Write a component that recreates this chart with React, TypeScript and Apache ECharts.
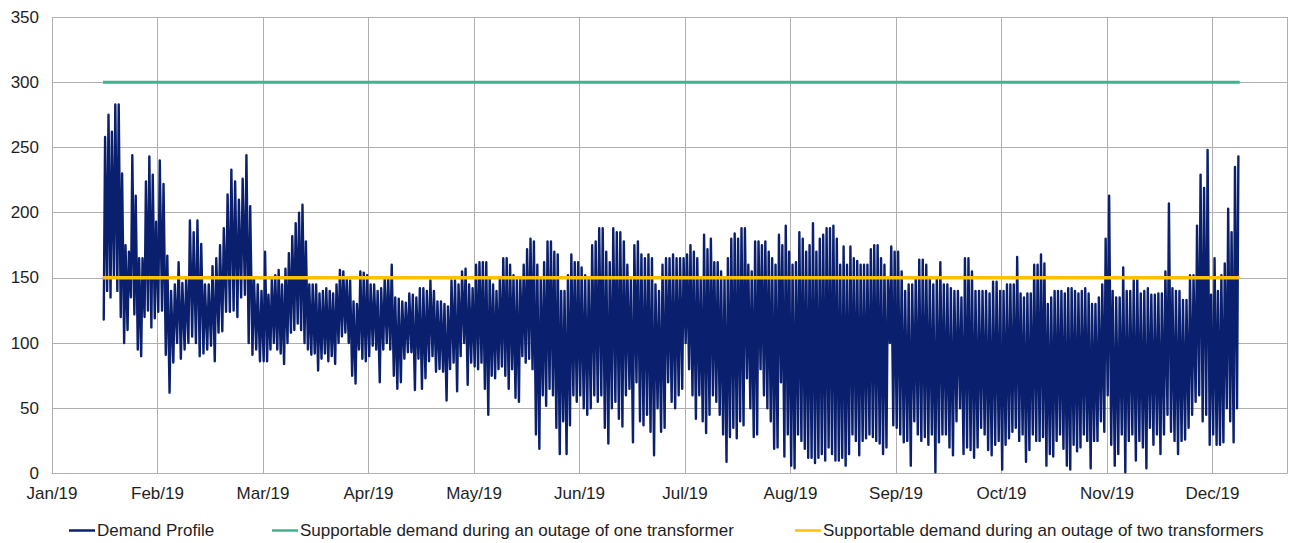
import React, { useEffect, useRef } from 'react';
import * as echarts from 'echarts';

// ---- axis / label data ----
const monthLabels = ['Jan/19', 'Feb/19', 'Mar/19', 'Apr/19', 'May/19', 'Jun/19', 'Jul/19', 'Aug/19', 'Sep/19', 'Oct/19', 'Nov/19', 'Dec/19'];
const daysInMonth = [31, 28, 31, 30, 31, 30, 31, 31, 30, 31, 30, 31];
const firstDayOfData = [16, 1, 1, 1, 1, 1, 1, 1, 1, 1, 1, 1]; // data starts 16 Jan 2019

// ---- daily demand peaks / troughs ----
const highJan = [258, 275, 262, 283, 283, 230, 175, 170, 244, 213, 165, 165, 224, 243, 229, 193];
const lowJan = [118, 140, 135, 150, 140, 120, 100, 110, 135, 122, 95, 90, 120, 125, 112, 119];
const highFeb = [240, 222, 167, 140, 145, 162, 146, 150, 194, 185, 194, 176, 145, 145, 159, 165, 175, 188, 214, 233, 224, 210, 226, 244, 205, 150, 145, 140];
const lowFeb = [124, 125, 91, 62, 85, 100, 88, 95, 100, 105, 100, 90, 92, 95, 98, 86, 108, 109, 124, 124, 125, 120, 135, 137, 100, 91, 95, 86];
const highMar = [170, 137, 150, 152, 156, 145, 157, 169, 182, 192, 200, 206, 178, 145, 145, 145, 138, 140, 142, 140, 138, 145, 156, 155, 150, 148, 132, 130, 155, 154, 152];
const lowMar = [86, 86, 95, 100, 95, 92, 84, 100, 108, 110, 115, 110, 100, 95, 91, 92, 79, 88, 92, 86, 90, 84, 100, 105, 108, 100, 75, 69, 95, 88, 86];
const highApr = [145, 145, 140, 142, 150, 150, 160, 135, 134, 132, 131, 138, 137, 135, 142, 142, 140, 148, 140, 132, 132, 130, 128, 148, 148, 145, 155, 157, 145, 142];
const lowApr = [90, 98, 95, 70, 95, 100, 95, 75, 65, 70, 88, 93, 93, 64, 88, 65, 73, 86, 90, 78, 80, 78, 56, 80, 85, 63, 90, 100, 68, 85];
const highMay = [160, 162, 162, 162, 150, 145, 140, 150, 165, 165, 160, 152, 150, 150, 160, 172, 180, 178, 160, 150, 162, 178, 178, 170, 168, 140, 140, 152, 168, 162, 162];
const lowMay = [82, 80, 85, 65, 45, 75, 73, 80, 82, 75, 65, 80, 58, 55, 90, 85, 88, 80, 30, 19, 60, 52, 65, 60, 35, 15, 40, 15, 37, 60, 55];
const highJun = [158, 152, 150, 175, 178, 188, 188, 170, 162, 188, 185, 185, 178, 160, 150, 175, 178, 168, 165, 168, 165, 145, 140, 160, 165, 165, 168, 165, 165, 165];
const lowJun = [60, 50, 45, 50, 60, 55, 60, 35, 23, 50, 55, 42, 36, 60, 65, 24, 70, 40, 37, 45, 32, 14, 50, 32, 35, 70, 55, 50, 60, 65];
const highJul = [168, 175, 170, 165, 150, 183, 172, 180, 162, 162, 155, 150, 165, 180, 184, 180, 188, 188, 160, 155, 178, 178, 175, 178, 170, 165, 160, 183, 175, 190, 170];
const lowJul = [100, 80, 60, 42, 60, 40, 31, 45, 60, 55, 45, 30, 9, 28, 35, 27, 40, 37, 73, 50, 28, 30, 80, 60, 50, 40, 19, 20, 70, 13, 30];
const highAug = [160, 162, 185, 180, 170, 175, 192, 170, 180, 183, 188, 188, 190, 180, 160, 174, 160, 174, 165, 163, 160, 160, 160, 172, 175, 175, 165, 160, 150, 174, 170];
const lowAug = [6, 4, 30, 25, 19, 12, 12, 8, 12, 15, 10, 20, 15, 10, 10, 12, 6, 15, 30, 25, 14, 25, 27, 30, 28, 25, 23, 15, 20, 100, 37];
const highSep = [170, 155, 140, 145, 145, 150, 164, 164, 160, 150, 145, 150, 162, 145, 145, 142, 140, 140, 135, 165, 165, 155, 140, 140, 140, 140, 138, 147, 147, 140];
const lowSep = [35, 30, 24, 25, 6, 40, 30, 25, 28, 22, 30, 1, 24, 30, 30, 20, 14, 40, 50, 15, 20, 18, 12, 20, 35, 30, 18, 14, 22, 25];
const highOct = [140, 145, 145, 145, 166, 138, 135, 138, 138, 160, 160, 168, 161, 130, 135, 140, 140, 140, 138, 142, 142, 140, 138, 140, 142, 138, 130, 130, 135, 145, 180];
const lowOct = [3, 22, 27, 32, 35, 25, 30, 9, 18, 30, 25, 25, 28, 6, 15, 13, 25, 30, 19, 6, 3, 22, 17, 20, 30, 25, 4, 25, 25, 40, 32];
const highNov = [213, 140, 135, 135, 158, 140, 140, 148, 148, 138, 140, 142, 137, 137, 138, 138, 155, 207, 142, 140, 140, 133, 133, 152, 152, 190, 229, 219, 248, 137];
const lowNov = [60, 22, 6, 15, 30, 1, 25, 30, 10, 25, 20, 4, 35, 22, 30, 15, 30, 45, 32, 25, 15, 25, 26, 35, 45, 55, 60, 40, 45, 22];
const highDec = [165, 140, 152, 161, 203, 185, 235, 243];
const lowDec = [30, 22, 22, 24, 50, 40, 24, 50];

const dailyHigh = [highJan, highFeb, highMar, highApr, highMay, highJun, highJul, highAug, highSep, highOct, highNov, highDec];
const dailyLow = [lowJan, lowFeb, lowMar, lowApr, lowMay, lowJun, lowJul, lowAug, lowSep, lowOct, lowNov, lowDec];

// ---- supportable demand limits ----
const oneTransformerLimit = 300;
const twoTransformerLimit = 150;

const seriesNames = [
  'Demand Profile',
  'Supportable demand during an outage of one transformer',
  'Supportable demand during an outage of two transformers',
];
const colors = ['#0a206e', '#3fb48a', '#ffc000'];

// position on the month axis of a given date/time fraction
const monthPos = (m: number, day: number, frac: number) => m + (day - 1 + frac) / daysInMonth[m];

function buildDemand() {
  const pts: number[][] = [];
  for (let m = 0; m < 12; m++) {
    const hi = dailyHigh[m];
    const lo = dailyLow[m];
    for (let i = 0; i < hi.length; i++) {
      const day = firstDayOfData[m] + i;
      pts.push([monthPos(m, day, 0.2), lo[i]]);
      pts.push([monthPos(m, day, 0.6), hi[i]]);
    }
  }
  return pts;
}

export default function App() {
  const ref = useRef<HTMLDivElement>(null);
  useEffect(() => {
    if (!ref.current) return;
    const chart = echarts.init(ref.current, undefined, { renderer: 'svg' });
    const demand = buildDemand();
    const startX = monthPos(0, firstDayOfData[0], 0);
    const lastM = 11;
    const endX = monthPos(lastM, firstDayOfData[lastM] + dailyHigh[lastM].length, 0);
    const font = 'Liberation Sans, Arial, sans-serif';
    const textColor = '#1e1e1e';
    const gridColor = '#b0b0b0';
    const fontSize = 17;
    const legendBase = {
      top: 522,
      icon: 'rect',
      itemWidth: 26,
      itemHeight: 2.5,
      itemGap: 0,
      textStyle: { fontFamily: font, fontSize, color: textColor, padding: [0, 0, 0, -3] },
      padding: 0,
    };
    chart.setOption({
      animation: false,
      color: colors,
      grid: { left: 52, right: 4, top: 17, bottom: 69.5, containLabel: false },
      xAxis: {
        type: 'value',
        min: 0,
        max: 11.706,
        interval: 1,
        axisLine: { show: true, lineStyle: { color: gridColor, width: 1 } },
        axisTick: { show: false },
        splitLine: { show: true, lineStyle: { color: gridColor, width: 1 } },
        axisLabel: {
          margin: 11,
          fontFamily: font,
          fontSize,
          color: textColor,
          showMaxLabel: false,
          formatter: (v: number) => (Number.isInteger(v) && v >= 0 && v < 12 ? monthLabels[v] : ''),
        },
      },
      yAxis: {
        type: 'value',
        min: 0,
        max: 350,
        interval: 50,
        axisLine: { show: false },
        axisTick: { show: false },
        splitLine: { show: true, lineStyle: { color: gridColor, width: 1 } },
        axisLabel: { margin: 13, fontFamily: font, fontSize, color: textColor },
      },
      legend: [
        { ...legendBase, left: 69, data: [seriesNames[0]] },
        { ...legendBase, left: 272, data: [seriesNames[1]] },
        { ...legendBase, left: 795, data: [seriesNames[2]] },
      ],
      series: [
        {
          name: seriesNames[0],
          type: 'line',
          data: demand,
          showSymbol: false,
          symbol: 'none',
          lineStyle: { color: colors[0], width: 2.4, join: 'round', cap: 'round' },
          z: 2,
        },
        {
          name: seriesNames[1],
          type: 'line',
          data: [[startX, oneTransformerLimit], [endX, oneTransformerLimit]],
          showSymbol: false,
          symbol: 'none',
          lineStyle: { color: colors[1], width: 3 },
          z: 3,
        },
        {
          name: seriesNames[2],
          type: 'line',
          data: [[startX, twoTransformerLimit], [endX, twoTransformerLimit]],
          showSymbol: false,
          symbol: 'none',
          lineStyle: { color: colors[2], width: 3.5 },
          z: 4,
        },
      ],
    });
    return () => chart.dispose();
  }, []);
  return <div ref={ref} style={{ position: 'absolute', left: 0, top: 0, width: 1291, height: 543, background: '#fff' }} />;
}
